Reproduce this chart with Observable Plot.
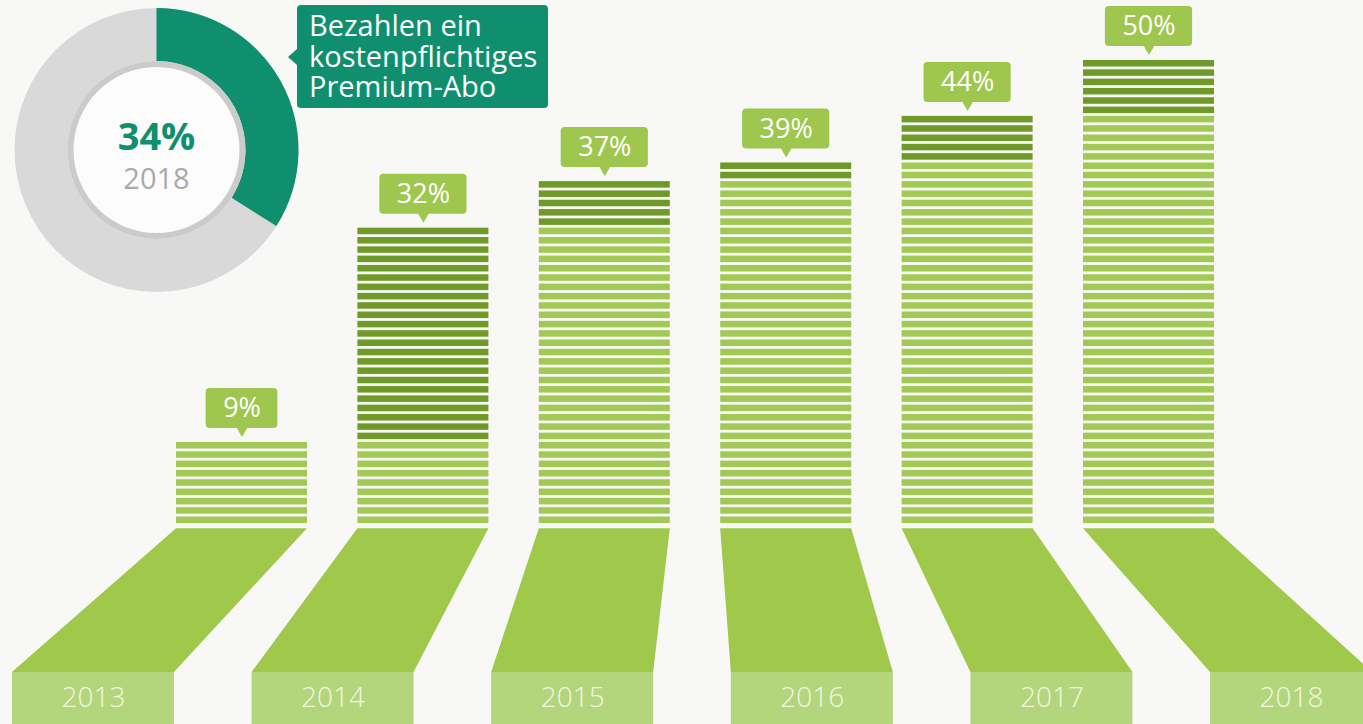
<!DOCTYPE html>
<html><head><meta charset="utf-8">
<script src="https://cdn.jsdelivr.net/npm/d3@7"></script>
<script src="https://cdn.jsdelivr.net/npm/@observablehq/plot@0.6"></script>
<style>
html,body{margin:0;padding:0;background:#f8f8f7;}
#chart{width:1363px;height:724px;overflow:hidden;}
#chart svg{display:block;}
</style></head><body><div id="chart"></div>
<script>
// ---- data ----
const years = [2013, 2014, 2015, 2016, 2017, 2018];
const shares = [9, 32, 37, 39, 44, 50];
const shareLabels = ["9%", "32%", "37%", "39%", "44%", "50%"];
const yearLabels = ["2013", "2014", "2015", "2016", "2017", "2018"];
const premiumShare = 34;
const premiumLabel = "34%";
const premiumYear = "2018";
const premiumText = ["Bezahlen ein", "kostenpflichtiges", "Premium-Abo"];

// ---- layout / style ----
const W = 1363, H = 724;
const X0 = 241.5, XSTEP = 181.4;
const Y0 = 525.8, YTOP = 60;
const PXU = (Y0 - YTOP) / 50;           // px per percentage point
const pxX = px => px / XSTEP;           // px -> year units
const pxY = px => px / PXU;             // px -> percent units
const HALF = pxX(65.5);
const SPREAD = 1.321, MID = 2015.5, SHIFT = pxX(-3);
const BHALF = pxX(81);
const TRAP_TOP = -pxY(2.4), TRAP_BOT = -pxY(146.2), BOX_BOT = -pxY(220);
const FONT = "'Open Sans', 'Noto Sans', sans-serif";
const C = {
  bg: "#f8f8f7", light: "#a3c955", dark: "#6f9a27", trap: "#a0c84b",
  box: "#b3d57c", yearText: "#f1f7e3", tag: "#9fc74f", teal: "#0f8f6d",
  grey: "#d9d9d9", ring: "#cbcbcb", hole: "#fcfcfc", greyText: "#aaaaaa"
};

// ---- derived tables ----
const stripes = [];
years.forEach((yr, i) => {
  const prev = i === 0 ? shares[0] : shares[i - 1];
  for (let k = 0; k < shares[i]; k++) {
    stripes.push({year: yr, k, dark: k >= prev});
  }
});
const bottomCenter = yr => MID + (yr - MID) * SPREAD + SHIFT;
const trap = years.flatMap(yr => [
  {year: yr, y: TRAP_TOP, x1: yr - HALF, x2: yr + HALF},
  {year: yr, y: TRAP_BOT, x1: bottomCenter(yr) - BHALF, x2: bottomCenter(yr) + BHALF}
]);

const ctx = document.createElement("canvas").getContext("2d");
ctx.font = `27px ${FONT}`;
const tags = years.map((yr, i) => {
  const w = ctx.measureText(shareLabels[i]).width + 34;
  return {year: yr, v: shares[i], label: shareLabels[i], half: pxX(w / 2)};
});

// donut + callout as a render function
function donut() {
  const g = d3.create("svg:g");
  const d = g.append("g").attr("transform", "translate(156.5,150)");
  const arc = d3.arc();
  d.append("path").attr("fill", C.grey)
    .attr("d", arc({innerRadius: 89, outerRadius: 142, startAngle: 0, endAngle: 2 * Math.PI}));
  d.append("path").attr("fill", C.teal)
    .attr("d", arc({innerRadius: 89, outerRadius: 142, startAngle: 0, endAngle: 2 * Math.PI * premiumShare / 100}));
  d.append("circle").attr("r", 89).attr("fill", C.ring);
  d.append("circle").attr("r", 83).attr("fill", C.hole);
  d.append("text").attr("text-anchor", "middle").attr("y", 0)
    .attr("font-family", FONT).attr("font-weight", 700).attr("font-size", 38)
    .attr("fill", C.teal).text(premiumLabel);
  d.append("text").attr("text-anchor", "middle").attr("y", 39)
    .attr("font-family", FONT).attr("font-size", 29)
    .attr("fill", C.greyText).text(premiumYear);
  // callout
  const c = g.append("g");
  c.append("rect").attr("x", 297).attr("y", 5).attr("width", 251).attr("height", 103)
    .attr("rx", 4).attr("fill", C.teal);
  c.append("path").attr("d", "M297,49L288,57L297,65Z").attr("fill", C.teal);
  premiumText.forEach((t, i) => {
    c.append("text").attr("x", 309).attr("y", 36 + i * 30.7)
      .attr("text-anchor", "start")
      .attr("font-family", FONT).attr("font-size", 29).attr("fill", "#ffffff").text(t);
  });
  return g.node();
}

const chart = Plot.plot({
  width: W, height: H,
  marginTop: 0, marginRight: 0, marginBottom: 0, marginLeft: 0,
  style: {background: C.bg, fontFamily: FONT, overflow: "hidden"},
  x: {type: "linear", domain: [2013, 2018], range: [X0, X0 + 5 * XSTEP], axis: null},
  y: {type: "linear", domain: [0, 50], range: [Y0, YTOP], axis: null},
  marks: [
    // stripes
    Plot.rect(stripes, {
      x1: d => d.year - HALF, x2: d => d.year + HALF,
      y1: d => d.k + 0.3, y2: d => d.k + 1,
      fill: d => d.dark ? C.dark : C.light
    }),
    // perspective floor
    Plot.areaX(trap, {y: "y", x1: "x1", x2: "x2", z: "year", fill: C.trap, curve: "linear"}),
    // year boxes
    Plot.rect(years, {
      x1: d => bottomCenter(d) - BHALF, x2: d => bottomCenter(d) + BHALF,
      y1: TRAP_BOT, y2: BOX_BOT, fill: C.box
    }),
    Plot.text(years, {
      x: d => bottomCenter(d), y: -pxY(172), text: (d, i) => yearLabels[i],
      fill: C.yearText, fontSize: 28, fontWeight: 300, lineAnchor: "middle", textAnchor: "middle"
    }),
    // value tags
    Plot.rect(tags, {
      x1: d => d.year - d.half, x2: d => d.year + d.half,
      y1: d => d.v + pxY(14), y2: d => d.v + pxY(54), fill: C.tag, rx: 4
    }),
    Plot.dot(tags, {
      x: "year", y: d => d.v + pxY(14), symbol: "triangle", rotate: 180,
      r: 4.2, dy: 2, fill: C.tag
    }),
    Plot.text(tags, {
      x: "year", y: d => d.v + pxY(34), text: "label", fill: "#ffffff",
      fontSize: 27, lineAnchor: "middle", textAnchor: "middle"
    }),
    donut
  ]
});
document.getElementById("chart").appendChild(chart);
</script>
</body></html>
